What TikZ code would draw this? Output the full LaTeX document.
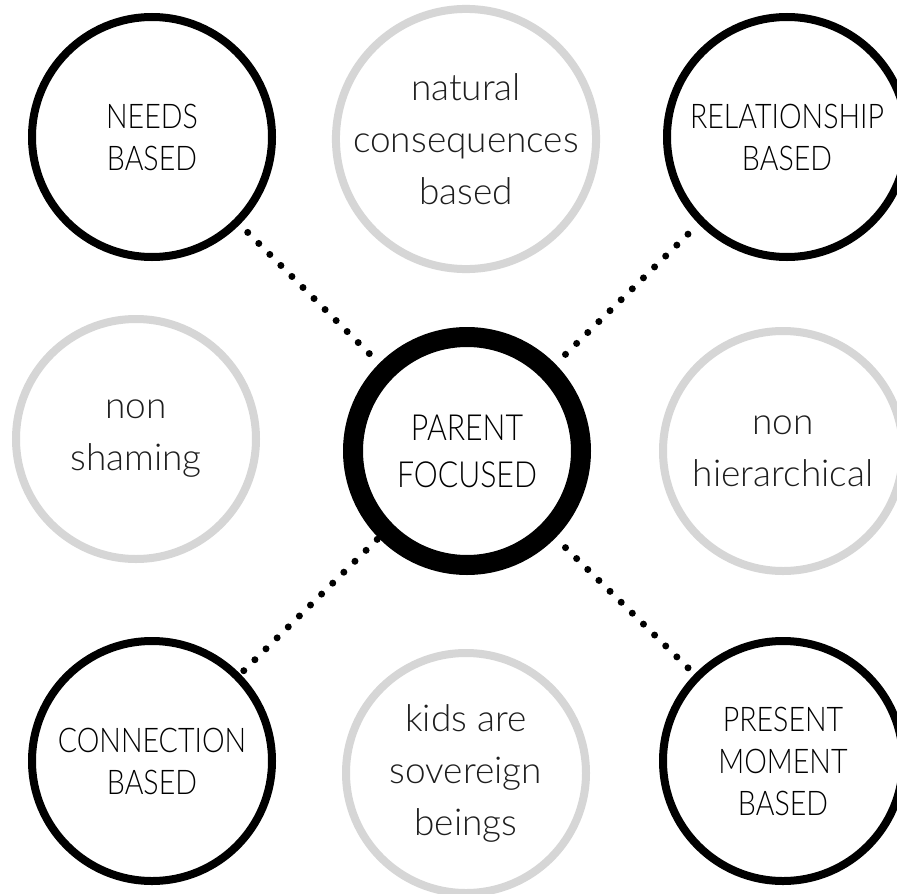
\documentclass[tikz,border=0pt]{standalone}
\usepackage{fontspec}
\newfontfamily\lightfont{Lato Light}
\newfontfamily\capsfont[FakeStretch=0.84]{Lato Light}
\definecolor{ringgray}{HTML}{D6D6D6}
\definecolor{txtgray}{HTML}{1E1E1E}
\tikzset{
  blackring/.style={circle, draw=black, line width=8pt, minimum size=240pt, inner sep=0pt, align=center,
    font=\capsfont\fontsize{34}{42}\selectfont, text=black},
  grayring/.style={circle, draw=ringgray, line width=8pt, minimum size=240pt, inner sep=0pt, align=center,
    font=\lightfont\fontsize{37}{52}\selectfont, text=txtgray},
  centerring/.style={circle, draw=black, line width=20pt, minimum size=228pt, inner sep=0pt, align=center,
    font=\capsfont\fontsize{36}{47}\selectfont, text=black},
  dotline/.style={line width=7pt, line cap=round, dash pattern=on 0pt off 15.6pt, draw=black}
}
\begin{document}
\begin{tikzpicture}[x=1pt,y=-1pt]
\useasboundingbox[fill=white] (0,0) rectangle (897,894);
\node[blackring] (needs) at (152,137) {NEEDS\\BASED};
\node[grayring] (natural) at (466,139) {natural\\consequences\\based};
\node[blackring] (rel) at (787,137) {RELATIONSHIP\\BASED};
\node[grayring] (nonsh) at (136,439) {non\\shaming};
\node[centerring] (parent) at (467,451) {PARENT\\FOCUSED};
\node[grayring] (nonh) at (783,451) {non\\hierarchical};
\node[blackring] (conn) at (152,761) {CONNECTION\\BASED};
\node[grayring] (kids) at (466,773) {kids are\\sovereign\\beings};
\node[blackring] (present) at (783,761) {PRESENT\\MOMENT\\BASED};
\draw[dotline, shorten <=14pt, shorten >=4pt] (parent) -- (needs);
\draw[dotline, shorten <=14pt, shorten >=4pt] (parent) -- (rel);
\draw[dotline, shorten <=2pt, shorten >=4pt] (parent) -- (conn);
\draw[dotline, shorten <=14pt, shorten >=4pt] (parent) -- (present);
\end{tikzpicture}
\end{document}
